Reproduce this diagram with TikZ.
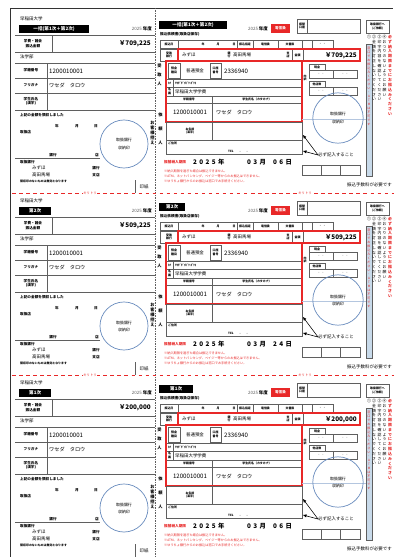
\documentclass[tikz,border=0pt]{standalone}
\usepackage{fontspec}
\setmainfont{Noto Sans CJK JP}
\usetikzlibrary{positioning,arrows.meta}
\definecolor{slipred}{RGB}{232,40,40}
\definecolor{stampblue}{RGB}{105,140,190}
\definecolor{barblue}{RGB}{200,218,234}
\definecolor{linegray}{RGB}{95,95,95}

\makeatletter
\newcommand\tatetext[1]{\@tfor\tate@c:=#1\do{\tate@c\\}}
\makeatother

\begin{document}
\begin{tikzpicture}[x=0.03cm,y=-0.03cm,
  tx/.style={font=\fontsize{3.8}{4.4}\selectfont,inner sep=0pt},
  sm/.style={font=\fontsize{3.1}{3.6}\selectfont\bfseries,inner sep=0pt,align=center},
  tiny/.style={font=\fontsize{2.5}{2.9}\selectfont\bfseries,inner sep=0pt,align=center},
  num/.style={font=\fontsize{5.2}{6}\selectfont,inner sep=0pt},
  kana/.style={font=\fontsize{4.4}{5}\selectfont,inner sep=0pt},
  big/.style={font=\fontsize{5.4}{6}\selectfont\bfseries,inner sep=0pt},
  note/.style={font=\fontsize{2.7}{3}\selectfont,text=slipred,inner sep=0pt,anchor=west},
  tate/.style={font=\fontsize{3.3}{4.1}\selectfont,inner sep=0pt,align=center,anchor=north},
  headbox/.style={fill=black,text=white,font=\fontsize{3.9}{4.4}\selectfont\bfseries,
    inner sep=0pt,minimum height=6.8pt,anchor=north west},
  cell/.style={draw=linegray,line width=0.4pt},
  redframe/.style={draw=slipred,line width=1pt},
  stamp/.style={draw=stampblue,line width=0.6pt,circle,align=center,
    font=\fontsize{3.4}{4}\selectfont},
  pointer/.style={-{Triangle[length=3pt,width=2.4pt]},line width=0.5pt}]

\fill[white] (0,0) rectangle (394,557);
\useasboundingbox (0,0) rectangle (394,557);

\draw[line width=0.8pt,black!80] (10,557) |- (393,8);
\draw[linegray,densely dotted] (155,8) -- (155,557);

\foreach \off/\lab/\wl/\wr/\amt/\dd [count=\s] in
  {0/{一括(第1次＋第2次)}/59.5pt/57.8pt/{709,225}/{0\kern2pt6},
   182/{第2次}/27.2pt/22.1pt/{509,225}/{2\kern2pt4},
   364/{第1次}/27.2pt/28.9pt/{200,000}/{0\kern2pt6}}{
\begin{scope}[shift={(0,\off)}]

% receipt
\node[tx,anchor=west] (univ\s) at (20,19) {早稲田大学};
\node[headbox,minimum width=\wl] (lhead\s) at (19,25) {\lab};
\node[tx,anchor=east] (lyear\s) at (152,29) {{\color{linegray}2025}\ \textbf{年度}};

\draw[cell] (15,35) -- (155,35) (15,52) -- (155,52) (52,35) -- (52,52);
\node[sm] (lamtlbl\s) at (33,43.5) {学費・諸会\\振込金額};
\node[big,anchor=east] (lamt\s) at (151,44) {￥\amt};
\node[tx,anchor=west] (fac\s) at (20,57) {法学部};

\draw[cell] (15,63) -- (155,63) (15,78) -- (155,78) (15,93) -- (155,93)
  (15,110) -- (155,110) (47,63) -- (47,110);
\node[sm] (lidl\s) at (31,70.5) {学籍番号};
\node[num,anchor=west] (lid\s) at (49,71) {1200010001};
\node[sm] (lkanal\s) at (31,85.5) {フリガナ};
\node[kana,anchor=west] (lkana\s) at (49,85.5) {ワセダ\quad タロウ};
\node[sm] (lnamel\s) at (31,101.5) {学生氏名\\(漢字)};

\node[sm,anchor=west] (recv\s) at (20,115) {上記の金額を領収しました};
\foreach \k/\xx [count=\j] in {年/57,月/77,日/96}
  \node[sm] (ldate\s-\j) at (\xx,126) {\k};
\node[sm,anchor=west] (lbank\s) at (20,132) {取扱店};
\draw[cell] (15,158) -- (100,158);
\node[sm] (lbk\s) at (53,155) {銀行};
\node[sm] (lbr\s) at (97,155) {店};
\node[stamp,minimum size=41pt] (lstamp\s) at (124,144) {取扱銀行\\[2pt]収納印};

\node[sm,anchor=west] (lpay\s) at (20,162) {取扱銀行};
\node[tx,anchor=west] (lmz\s) at (32,168) {みずほ};
\node[tx,anchor=west] (ltk\s) at (32,175) {高田馬場};
\node[sm] (lgk\s) at (96,168) {銀行};
\node[sm] (lst\s) at (96,175) {支店};
\node[tiny,anchor=west] (lcare\s) at (20,181.5) {領収印のないものは無効となります};
\draw[cell] (135,180) -- (135,193);
\node[tx] (seal\s) at (144,187) {印紙};
\node[tate,font=\fontsize{3.6}{4.3}\selectfont\bfseries] (ctrl\s) at (152.5,121)
  {\tatetext{お客様控え}};

% slip
\node[headbox,minimum width=\wr] (rhead\s) at (159,21) {\lab};
\node[sm,anchor=west] (rtitle\s) at (160,34) {振込依頼書(取扱店保存)};
\node[tx,anchor=east] (ryear\s) at (268,29) {{\color{linegray}2025}\,\textbf{年度}};
\node[fill=slipred,text=white,font=\fontsize{3}{4}\selectfont\bfseries,
  minimum width=16pt,minimum height=7pt,inner sep=0pt] (rtel\s) at (280.5,28.5) {電信扱};
\draw[cell] (297,19) rectangle (360,33) (307,19) -- (307,33);
\node[tiny] (racct\s) at (302,26) {振替\\口座};
\draw[cell] (366,20) rectangle (389,33);
\node[tiny] (rreq\s) at (377.5,26.5) {取扱銀行へ\\(ご依頼)};

\draw[cell] (160,40) rectangle (333,48);
\foreach \xx in {178,237,253,278,302,312}
  \draw[cell] (\xx,40) -- (\xx,48);
\node[tiny] (rdate\s) at (169,44) {振込日};
\foreach \k/\xx [count=\j] in {年/203,月/218,日/234}
  \node[tiny] (rymd\s-\j) at (\xx,44) {\k};
\node[tiny] (rspec\s) at (245,44) {振込指定};
\node[tiny] (rtel2\s) at (265.5,44) {電信扱};
\node[tiny] (rdoc\s) at (290,44) {文書扱};
\node[tiny] (rdash\s) at (322.5,44) {-\quad-};

\draw[cell] (160,49) rectangle (178,61);
\node[tiny] (rbankl\s) at (169,55) {受取\\銀行};
\node[tx,anchor=west] (rmz\s) at (182,55) {みずほ};
\node[tiny] (rgk\s) at (229,55) {銀\\行};
\node[tx,anchor=west] (rtk\s) at (233,55) {高田馬場};
\node[tiny] (rst\s) at (288,55) {支\\店};
\draw[cell] (292,49) -- (292,61) (303,49) -- (303,61);
\node[tiny] (ramtl\s) at (297.5,55) {金額};
\node[big,anchor=east] (ramt\s) at (357,55.5) {￥\amt};

\draw[cell] (168,63) rectangle (180,78) (210,63) rectangle (221,78);
\node[tiny] (rtypel\s) at (174,70.5) {預金\\種目};
\node[tx] (rtype\s) at (195,71) {普通預金};
\node[tiny] (rnol\s) at (215.5,70.5) {口座\\番号};
\node[num,anchor=west] (rno\s) at (224,71) {2336940};
\draw[cell] (166,79) -- (302,79) (166,87) -- (302,87) (166,96) -- (302,96)
  (166,103) -- (302,103) (173,79) -- (173,96) (212,96) -- (212,122);
\node[tiny] (rkanal\s) at (169.5,83) {ｶﾅ};
\node[tiny,anchor=west] (rkana\s) at (175,83) {ﾜｾﾀﾞﾀﾞｲｶﾞｸ ｶﾞｸﾋ};
\node[tiny] (rmeil\s) at (169.5,91.5) {名\\義};
\node[tx,anchor=west] (rmei\s) at (175,91.5) {早稲田大学学費};
\node[tiny] (ridl\s) at (189,99.5) {学籍番号};
\node[tiny] (rnamel\s) at (257,99.5) {学生氏名（カタカナ）};
\node[num] (rid\s) at (190,112) {1200010001};
\node[kana,anchor=west] (rname\s) at (216,112) {ワセダ\quad タロウ};

\draw[redframe] (178,49) rectangle (360,61) (166,61) rectangle (302,122);

\draw[cell] (166,122) rectangle (302,154) (166,140) -- (302,140) (212,122) -- (212,140);
\node[tiny] (rcl\s) at (190,131) {お名前\\(漢字)};
\node[tiny,anchor=west] (raddr\s) at (168,143.5) {ご住所};
\node[tiny,anchor=west] (rtelno\s) at (228,151) {TEL\qquad -\qquad -};

\node[tate,font=\fontsize{3.6}{7.6}\selectfont\bfseries] (rrecv\s) at (159.5,63.5)
  {\tatetext{受取人}};
\node[tate,font=\fontsize{3.6}{12}\selectfont\bfseries] (rsend\s) at (160.5,112.5)
  {\tatetext{依頼人}};

\node[tiny] (rbd\s) at (305,78) {内\\訳};
\draw[cell] (309,64) rectangle (325,70) (309,70) rectangle (357,78) (333,70) -- (333,78)
  (309,81) rectangle (325,87) (309,87) rectangle (357,95) (333,87) -- (333,95);
\node[tiny] (rcash\s) at (317,67) {現金};
\node[tiny] (rchk\s) at (317,84) {他店券};
\foreach \xx/\yy [count=\j] in {321/74,345/74,321/91,345/91}
  \node[tiny,text=linegray] (rdd\s-\j) at (\xx,\yy) {-\quad-};

\draw[stampblue!50,line width=0.6pt] (302,119) -- (367,119);
\node[stamp,minimum size=43pt] (rstamp\s) at (338,118) {取扱銀行\\[2pt]収納印};

\node[tx,anchor=west] (must\s) at (318,155) {必ず記入すること};
\coordinate (nameptr\s) at (303,135);
\coordinate (addrptr\s) at (303,151);
\draw[pointer] (must\s.west) -- (nameptr\s);
\draw[pointer] (must\s.west) -- (addrptr\s);

\node[sm,text=slipred,anchor=west] (rdue\s) at (164,162) {振替納入期限};
\node[big,anchor=west] (rdy\s) at (193,162) {2\kern2pt0\kern2pt2\kern2pt5\kern2pt年};
\node[big,anchor=west] (rdm\s) at (247,162) {0\kern2pt3\kern2pt月};
\node[big,anchor=west] (rdd\s) at (273,162) {\dd\kern2pt日};
\node[note] (n1\s) at (164,171.5) {※納入期限を過ぎた場合は振込できません。};
\node[note] (n2\s) at (164,176.5) {※ATM、ネットバンキング、ペイジー等からのお振込はできません。};
\node[note] (n3\s) at (164,181.5) {※ゆうちょ銀行からのお振込は窓口でお手続きください。};

\draw[cell] (302,165) rectangle (360,175) (321,165) -- (321,175) (340,165) -- (340,175);
\node[tx,anchor=east] (fee\s) at (392,185) {振込手数料が必要です};

\fill[barblue] (366,44) rectangle (372,176);
\draw[cell] (366,44) rectangle (372,176);
\node[tate] (c1\s) at (369,35) {①};
\node[tate,font=\fontsize{2.6}{3.4}\selectfont,text=slipred] (cbar\s) at (369,47)
  {\tatetext{窓口でお振込みください・ATMは不可です}};
\node[tate] (c2\s) at (374,35) {\tatetext{②金額を訂正しないでください}};
\node[tate] (c3\s) at (379.5,35) {\tatetext{③印字内容を確認してください}};
\node[tate] (c4\s) at (384.5,35) {\tatetext{④おつりのないようにお願い}};
\node[tate,text=slipred,font=\fontsize{3.3}{4.1}\selectfont\bfseries] (c5\s) at (390,35)
  {\tatetext{必ず納入期限までにお振込みください}};

\ifnum\s<3
\draw[slipred,dashed,line width=0.5pt] (12,193) -- (394,193);
\node[fill=white,text=slipred,font=\fontsize{2.8}{3}\selectfont,inner sep=0.6pt]
  (cutl\s) at (90,193) {キリトリ};
\node[fill=white,text=slipred,font=\fontsize{2.8}{3}\selectfont,inner sep=0.6pt]
  (cutr\s) at (305,193) {キリトリ};
\fi

\end{scope}
}

\end{tikzpicture}
\end{document}
